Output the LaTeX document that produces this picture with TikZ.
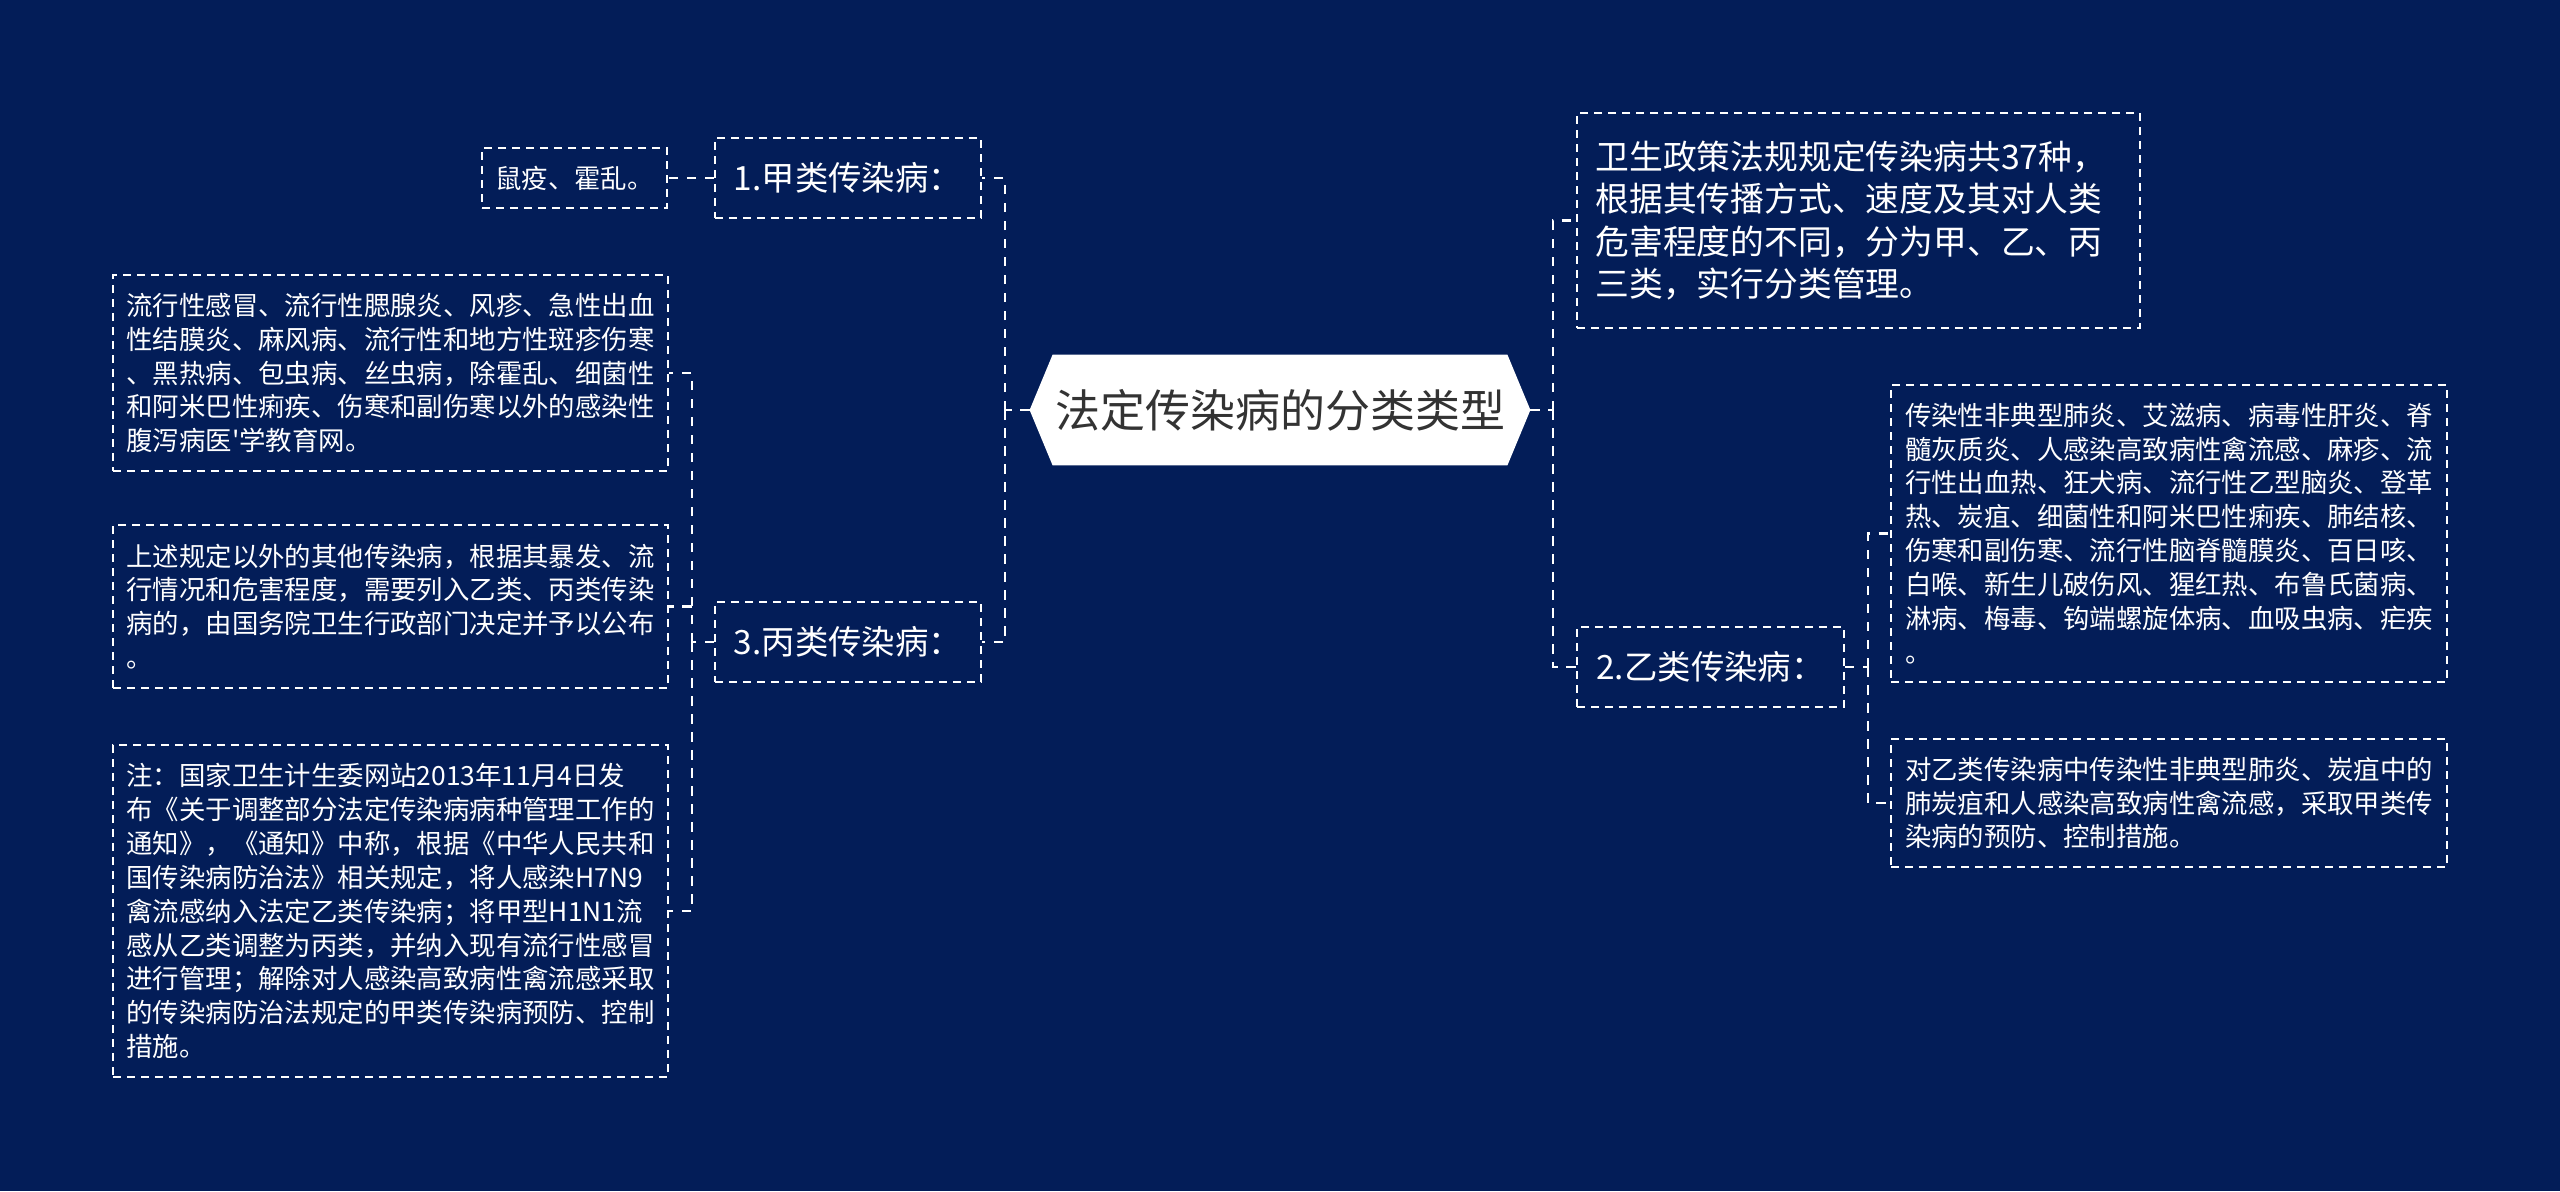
\documentclass[tikz,border=0pt]{standalone}
\usepackage{fontspec}
\setmainfont{Noto Sans CJK SC}
\usetikzlibrary{backgrounds}
\definecolor{navy}{RGB}{3,29,88}
\definecolor{hubtext}{RGB}{51,51,51}

\begin{document}
\begin{tikzpicture}
[x=0.5pt,y=-0.5pt,
 link/.style={draw=white,line width=1.4pt,dash pattern=on 4.75pt off 4.25pt},
 frame/.style={draw=white,line width=0.9pt,dash pattern=on 4pt off 3pt},
 box/.style={frame,text=white,align=left,inner xsep=6.75pt,inner ysep=0pt,text width=264pt,minimum width=277.5pt,font=\fontsize{13.2}{16.95}\selectfont},
 kind/.style={frame,text=white,align=center,inner sep=0pt,minimum width=133pt,minimum height=40pt,font=\fontsize{16.7}{20}\selectfont},
 tag/.style={frame,text=white,inner sep=0pt,minimum width=92.5pt,minimum height=30pt,font=\fontsize{13.2}{16}\selectfont},
 hub/.style={text=hubtext,inner sep=0pt,minimum width=250pt,minimum height=55pt,font=\fontsize{22.5}{27}\selectfont}]
 \useasboundingbox (0,0) rectangle (2560,1191);

 \node[hub] (hub) at (1280,410) {法定传染病的分类类型};

 \node[kind] (jia) at (848,178) {1.甲类传染病：};
 \node[tag] (shuyi) at (574.5,178) {鼠疫、霍乱。};
 \node[kind] (bing) at (848,642) {3.丙类传染病：};
 \node[box,minimum height=98pt] (bing1) at (390.5,373) {流行性感冒、流行性腮腺炎、风疹、急性出血\\性结膜炎、麻风病、流行性和地方性斑疹伤寒\\、黑热病、包虫病、丝虫病，除霍乱、细菌性\\和阿米巴性痢疾、伤寒和副伤寒以外的感染性\\腹泻病医\textquotesingle 学教育网。};
 \node[box,minimum height=81.5pt] (bing2) at (390.5,606.5) {上述规定以外的其他传染病，根据其暴发、流\\行情况和危害程度，需要列入乙类、丙类传染\\病的，由国务院卫生行政部门决定并予以公布\\。};
 \node[box,minimum height=166pt] (bing3) at (390.5,911) {注：国家卫生计生委网站2013年11月4日发\\布《关于调整部分法定传染病病种管理工作的\\通知》，《通知》中称，根据《中华人民共和\\国传染病防治法》相关规定，将人感染H7N9\\禽流感纳入法定乙类传染病；将甲型H1N1流\\感从乙类调整为丙类，并纳入现有流行性感冒\\进行管理；解除对人感染高致病性禽流感采取\\的传染病防治法规定的甲类传染病预防、控制\\措施。};

 \node[box,text width=263pt,inner xsep=9pt,minimum width=281.5pt,minimum height=107.5pt,font=\fontsize{16.9}{21.2}\selectfont] (intro) at (1858.5,220.5) {卫生政策法规规定传染病共37种，\\根据其传播方式、速度及其对人类\\危害程度的不同，分为甲、乙、丙\\三类，实行分类管理。};
 \node[kind,minimum width=133.5pt] (yi) at (1710.5,667) {2.乙类传染病：};
 \node[box,minimum width=278pt,minimum height=148.5pt] (yi1) at (2169,533.5) {传染性非典型肺炎、艾滋病、病毒性肝炎、脊\\髓灰质炎、人感染高致病性禽流感、麻疹、流\\行性出血热、狂犬病、流行性乙型脑炎、登革\\热、炭疽、细菌性和阿米巴性痢疾、肺结核、\\伤寒和副伤寒、流行性脑脊髓膜炎、百日咳、\\白喉、新生儿破伤风、猩红热、布鲁氏菌病、\\淋病、梅毒、钩端螺旋体病、血吸虫病、疟疾\\。};
 \node[box,minimum width=278pt,minimum height=64pt] (yi2) at (2169,803) {对乙类传染病中传染性非典型肺炎、炭疽中的\\肺炭疽和人感染高致病性禽流感，采取甲类传\\染病的预防、控制措施。};

 \coordinate (busL) at (1005,410);
 \coordinate (busB) at (692,642);
 \coordinate (busR) at (1553,410);
 \coordinate (busY) at (1868,667);

 \draw[link] (hub.west) -- (busL);
 \draw[link] (busL) |- (jia.east);
 \draw[link] (busL) |- (bing.east);
 \draw[link] (jia.west) -- (shuyi.east);
 \draw[link] (bing.west) -- (busB);
 \draw[link] (busB) |- (bing1.east);
 \draw[link] (busB) |- (bing2.east);
 \draw[link] (busB) |- (bing3.east);

 \draw[link] (hub.east) -- (busR);
 \draw[link] (busR) |- (intro.west);
 \draw[link] (busR) |- (yi.west);
 \draw[link] (yi.east) -- (busY);
 \draw[link] (busY) |- (yi1.west);
 \draw[link] (busY) |- (yi2.west);

 \begin{scope}[on background layer]
  \fill[navy] (0,0) rectangle (2560,1191);
  \fill[white] (hub.west) -- ([xshift=11.5pt]hub.north west) -- ([xshift=-11.5pt]hub.north east)
   -- (hub.east) -- ([xshift=-11.5pt]hub.south east) -- ([xshift=11.5pt]hub.south west) -- cycle;
 \end{scope}
\end{tikzpicture}
\end{document}
